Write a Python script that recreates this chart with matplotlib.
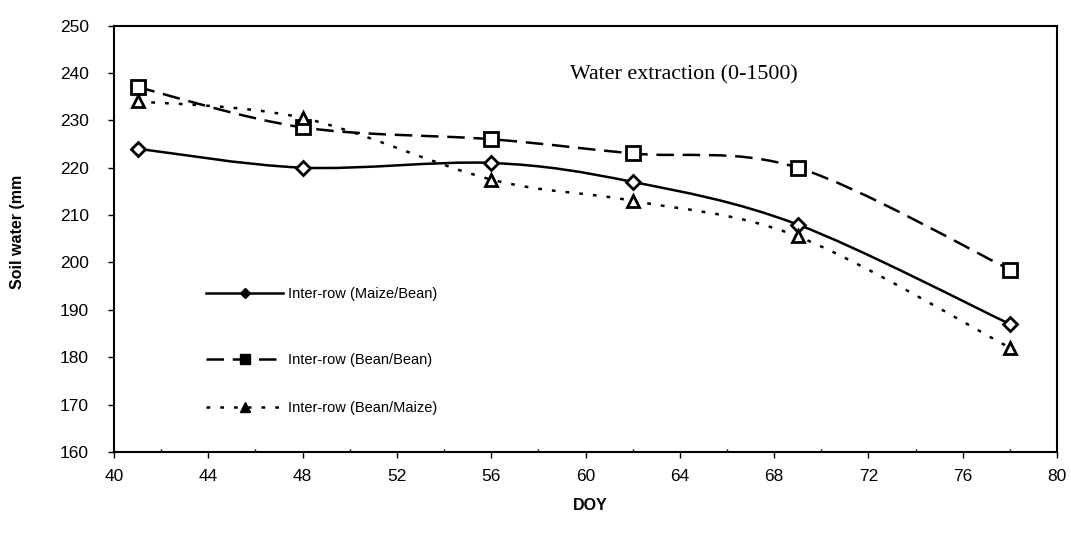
import matplotlib
matplotlib.use("Agg")
import matplotlib.pyplot as plt
from matplotlib.path import Path
from matplotlib.patches import PathPatch
from matplotlib.lines import Line2D
from matplotlib.legend import Legend
from matplotlib.ticker import MultipleLocator

doy = [41, 48, 56, 62, 69, 78]
maize_bean = [224, 220, 221, 217, 208, 187]
bean_bean = [237, 228.5, 226, 223, 220, 198.5]
bean_maize = [234, 230.5, 217.5, 213, 205.5, 182]
labels = ["Inter-row (Maize/Bean)", "Inter-row (Bean/Bean)", "Inter-row (Bean/Maize)"]
xticks = list(range(40, 81, 4))
yticks = list(range(160, 251, 10))

fig = plt.figure(figsize=(10.71, 5.41), dpi=100)
ax = fig.add_axes([114 / 1071, 1 - 452 / 541, (1057 - 114) / 1071, (452 - 25.5) / 541])

def smooth_path(xs, ys):
    verts = [(xs[0], ys[0])]
    codes = [Path.MOVETO]
    n = len(xs)
    for i in range(n - 1):
        x0, y0 = (xs[i - 1], ys[i - 1]) if i > 0 else (xs[i], ys[i])
        x1, y1 = xs[i], ys[i]
        x2, y2 = xs[i + 1], ys[i + 1]
        x3, y3 = (xs[i + 2], ys[i + 2]) if i + 2 < n else (x2, y2)
        c1 = (x1 + (x2 - x0) / 6, y1 + (y2 - y0) / 6)
        c2 = (x2 - (x3 - x1) / 6, y2 - (y3 - y1) / 6)
        verts += [c1, c2, (x2, y2)]
        codes += [Path.CURVE4] * 3
    return Path(verts, codes)

styles = [
    dict(ls="-", marker="D", ms=7, dashes=None),
    dict(ls="--", marker="s", ms=9.5, dashes=(7, 3.5)),
    dict(ls=":", marker="^", ms=9, dashes=(1.5, 4)),
]
series = [maize_bean, bean_bean, bean_maize]

for ys, st in zip(series, styles):
    patch = PathPatch(smooth_path(doy, ys), facecolor="none", edgecolor="black",
                      lw=1.8, transform=ax.transData, zorder=2)
    if st["dashes"] is not None:
        patch.set_linestyle((0, st["dashes"]))
    ax.add_patch(patch)
    ax.plot(doy, ys, ls="none", marker=st["marker"], ms=st["ms"], mfc="white",
            mec="black", mew=2, zorder=3)

ax.set_xlim(40, 80)
ax.set_ylim(160, 250)
ax.set_xticks(xticks)
ax.set_yticks(yticks)
ax.xaxis.set_minor_locator(MultipleLocator(2))
ax.tick_params(axis="y", which="major", direction="out", length=4, width=1,
               labelsize=12.5, pad=14)
ax.tick_params(axis="x", which="major", direction="out", length=4, width=1,
               labelsize=12.5, pad=8)
ax.tick_params(axis="x", which="minor", direction="in", length=2, width=1)
for lab in ax.get_xticklabels() + ax.get_yticklabels():
    lab.set_fontfamily("Liberation Sans")
for sp in ax.spines.values():
    sp.set_linewidth(1.5)

fig.text(18 / 1071, 1 - 232 / 541, "Soil water (mm", rotation=90, ha="center", va="center",
         fontsize=11.5, fontweight="bold", fontfamily="Liberation Sans")
fig.text(590 / 1071, 1 - 505 / 541, "DOY", ha="center", va="center",
         fontsize=11.5, fontweight="bold", fontfamily="Liberation Sans")
fig.text(570 / 1071, 1 - 75 / 541, "Water extraction (0-1500)",
         ha="left", va="center", fontsize=15.8, fontfamily="Liberation Serif")

legend_y = [294, 360, 408]
for lbl, st, yy in zip(labels, styles, legend_y):
    h = Line2D([], [], color="black", lw=1.8, marker=st["marker"], ms=st["ms"] * 0.75,
               mfc="black", mec="black", ls=st["ls"])
    if st["dashes"] is not None:
        h.set_dashes(st["dashes"])
    leg = Legend(ax, [h], [lbl], loc="center left",
                 bbox_to_anchor=(206 / 1071, 1 - yy / 541),
                 bbox_transform=fig.transFigure, frameon=False, handlelength=5.3,
                 handletextpad=0.3, borderpad=0, borderaxespad=0,
                 prop={"family": "Liberation Sans", "size": 10.5})
    ax.add_artist(leg)

fig.savefig("out.png", dpi=100)
